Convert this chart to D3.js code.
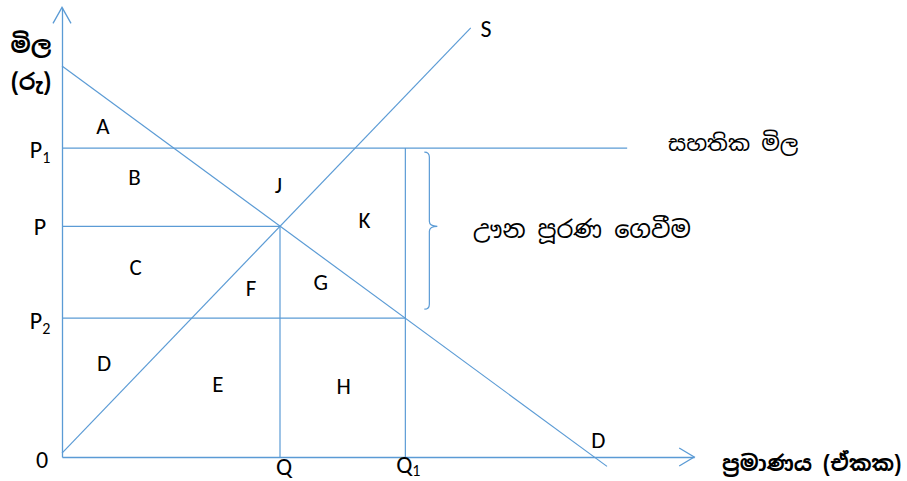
<!DOCTYPE html>
<html>
<head>
<meta charset="utf-8">
<script src="https://cdn.jsdelivr.net/npm/d3@7"></script>
<style>
  body { margin: 0; background: #fff; }
  text { font-family: Carlito, Lato, "Open Sans", sans-serif; fill: #000; }
  .si { font-family: "Iskoola Pota", "Noto Sans Sinhala", "Noto Serif Sinhala", "Noto Sans", sans-serif; }
</style>
</head>
<body>
<script>
// quantities / prices in chart units
var demandQ = [0, 10];
var demandP = [10, -0.24];
var supplyQ = [0, 7.5];
var supplyP = [0.1, 10.975];
var priceLevels = { P1: 7.9, P: 5.9, P2: 3.55 };
var qLevels = { Q: 4, Q1: 6.3 };
var floorEnd = 10.37;
var areaLabels = ["A", "B", "J", "K", "C", "F", "G", "D", "E", "H"];
var areaQ = [0.75, 1.33, 3.97, 5.55, 1.35, 3.47, 4.75, 0.77, 2.86, 5.17];
var areaP = [8.4, 7.1, 6.9, 6.0, 4.8, 4.25, 4.4, 2.33, 1.8, 1.76];

function init() {
    var w = 907, h = 481;
    var x0 = 62, y0 = 457;
    var x = d3.scaleLinear().domain([0, 11.6]).range([x0, x0 + 11.6 * 54.5]);
    var y = d3.scaleLinear().domain([0, 11.5]).range([y0, y0 - 11.5 * 39.1]);
    var blue = "#5b9bd5";

    var svg = d3.select("body").append("svg")
        .attr("width", w)
        .attr("height", h);

    // axes (no ticks)
    svg.append("g")
        .attr("transform", "translate(0," + y0 + ")")
        .call(d3.axisBottom(x).tickValues([]).tickSizeOuter(0));
    svg.append("g")
        .attr("transform", "translate(" + x0 + ",0)")
        .call(d3.axisLeft(y).tickValues([]).tickSizeOuter(0));
    svg.selectAll(".domain").attr("stroke", blue).attr("stroke-width", 1.3);

    // arrow heads
    var xe = x(11.6), ye = y(11.5);
    svg.append("path")
        .attr("d", "M" + (xe - 15) + "," + (y0 - 9) + "L" + xe + "," + y0 + "L" + (xe - 15) + "," + (y0 + 9))
        .attr("fill", "none").attr("stroke", blue).attr("stroke-width", 1.3);
    svg.append("path")
        .attr("d", "M" + (x0 - 9) + "," + (ye + 16) + "L" + x0 + "," + ye + "L" + (x0 + 9) + "," + (ye + 16))
        .attr("fill", "none").attr("stroke", blue).attr("stroke-width", 1.3);

    var line = d3.line().x(function(d) { return x(d[0]); }).y(function(d) { return y(d[1]); });

    function seg(pts) {
        svg.append("path")
            .attr("d", line(pts))
            .attr("fill", "none")
            .attr("stroke", blue)
            .attr("stroke-width", 1.2);
    }

    // demand and supply
    seg(d3.zip(demandQ, demandP));
    seg(d3.zip(supplyQ, supplyP));

    // price floor and guide lines
    seg([[0, priceLevels.P1], [floorEnd, priceLevels.P1]]);
    seg([[0, priceLevels.P], [qLevels.Q, priceLevels.P]]);
    seg([[0, priceLevels.P2], [qLevels.Q1, priceLevels.P2]]);
    seg([[qLevels.Q, priceLevels.P], [qLevels.Q, 0]]);
    seg([[qLevels.Q1, priceLevels.P1], [qLevels.Q1, 0]]);

    // brace
    var bx = x(6.3) + 19, bt = y(priceLevels.P1) + 4, bb = y(priceLevels.P2) - 9, bm = y(priceLevels.P);
    svg.append("path")
        .attr("d", "M" + bx + "," + bt + "q5,0 5,5 L" + (bx + 5) + "," + (bm - 5) + "q0,5 8,5 q-8,0 -8,5 L" + (bx + 5) + "," + (bb - 5) + "q0,5 -5,5")
        .attr("fill", "none").attr("stroke", blue).attr("stroke-width", 1.2);

    // area letters
    svg.selectAll("text.area")
        .data(areaLabels)
        .enter()
        .append("text")
        .attr("class", "area")
        .attr("x", function(d, i) { return x(areaQ[i]); })
        .attr("y", function(d, i) { return y(areaP[i]); })
        .attr("text-anchor", "middle")
        .attr("dominant-baseline", "middle")
        .attr("font-size", 23)
        .text(function(d) { return d; });

    // axis labels
    function sub(main, s, px, py, dy) {
        var tx = svg.append("text").attr("x", px).attr("y", py).attr("font-size", 24).attr("text-anchor", "middle");
        tx.append("tspan").text(main);
        if (s) tx.append("tspan").attr("font-size", 16).attr("dy", dy || 5).text(s);
        return tx;
    }
    sub("P", "1", 40, y(priceLevels.P1) + 10);
    sub("P", "", 40, y(priceLevels.P) + 9);
    sub("P", "2", 40, y(priceLevels.P2) + 11);
    sub("0", "", 42, y0 + 11);
    sub("Q", "", x(qLevels.Q) + 4, y0 + 18);
    sub("Q", "1", x(qLevels.Q1) + 3, y0 + 16, 3);

    svg.append("text").attr("x", x(9.84)).attr("y", y(0) - 9).attr("font-size", 23).attr("text-anchor", "middle").text("D");
    svg.append("text").attr("x", x(7.78)).attr("y", y(10.74)).attr("font-size", 24).attr("text-anchor", "middle").text("S");

    // Sinhala labels
    svg.append("text").attr("class", "si").attr("x", 31).attr("y", 53).attr("font-size", 23).attr("font-weight", "bold").attr("text-anchor", "middle").text("මිල");
    svg.append("text").attr("class", "si").attr("x", 31).attr("y", 90).attr("font-size", 23).attr("font-weight", "bold").attr("text-anchor", "middle").text("(රු)");
    svg.append("text").attr("class", "si").attr("x", 668).attr("y", 151).attr("font-size", 22).text("සහතික මිල");
    svg.append("text").attr("class", "si").attr("x", 473).attr("y", 238).attr("font-size", 24).text("ඌන පූරණ ගෙවීම");
    svg.append("text").attr("class", "si").attr("x", 722).attr("y", 471).attr("font-size", 21.5).attr("font-weight", "bold").text("ප්‍රමාණය (ඒකක)");
}

window.onload = init;
</script>
</body>
</html>
